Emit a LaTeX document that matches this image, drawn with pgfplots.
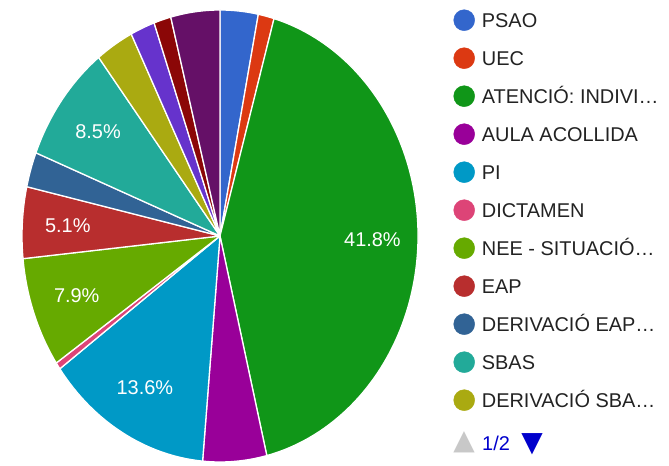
\documentclass[border=0pt]{standalone}
\usepackage{pgfplots}
\pgfplotsset{compat=1.18}
\usepackage{pgfplotstable}
\usepackage{fontspec}
\setmainfont{Liberation Sans}
\newfontfamily\symfont{DejaVu Sans}
\definecolor{c1}{HTML}{3366CC}
\definecolor{c2}{HTML}{DC3912}
\definecolor{c3}{HTML}{109618}
\definecolor{c4}{HTML}{990099}
\definecolor{c5}{HTML}{0099C6}
\definecolor{c6}{HTML}{DD4477}
\definecolor{c7}{HTML}{66AA00}
\definecolor{c8}{HTML}{B82E2E}
\definecolor{c9}{HTML}{316395}
\definecolor{c10}{HTML}{22AA99}
\definecolor{c11}{HTML}{AAAA11}
\definecolor{c12}{HTML}{6633CC}
\definecolor{c13}{HTML}{8B0707}
\definecolor{c14}{HTML}{651067}
\definecolor{pagerblue}{HTML}{0000CC}
\definecolor{pagergray}{HTML}{C8C8C8}
\definecolor{legtext}{HTML}{222222}

\pgfplotstableread[col sep=semicolon]{
label;value;color;pct;leg
PSAO;3.1;c1;0;1
UEC;1.3;c2;0;1
ATENCIÓ: INDIVI…;41.8;c3;1;1
AULA ACOLLIDA;5.2;c4;0;1
PI;13.6;c5;1;1
DICTAMEN;0.5;c6;0;1
NEE - SITUACIÓ…;7.9;c7;1;1
EAP;5.1;c8;1;1
DERIVACIÓ EAP…;2.5;c9;0;1
SBAS;8.5;c10;1;1
DERIVACIÓ SBA…;3.1;c11;0;1
P12;2.0;c12;0;0
P13;1.4;c13;0;0
P14;4.0;c14;0;0
}\piedata

\begin{document}
\begin{tikzpicture}
\begin{axis}[
  width=669bp, height=466bp, scale only axis,
  xmin=0, xmax=669, ymin=0, ymax=466,
  hide axis, clip=false,
  legend style={at={(axis cs:453.5,456.5)}, anchor=north west, draw=none, fill=none,
    inner sep=0pt, outer sep=0pt, font=\fontsize{20}{24}\selectfont, row sep=16.6bp,
    text=legtext,
    nodes={inner xsep=7bp, inner ysep=0pt, text height=14.3bp, text depth=0pt},
    legend cell align=left},
  legend image code/.code={\fill[#1] (10.5bp,0bp) circle[radius=10.5bp];},
]
\path (rel axis cs:0,0) rectangle (rel axis cs:1,1);
\pgfplotstablegetrowsof{\piedata}
\pgfmathtruncatemacro\N{\pgfplotsretval-1}
\gdef\cum{0}
\pgfplotsforeachungrouped \i in {0,...,\N}{%
  \pgfplotstablegetelem{\i}{value}\of\piedata \let\v\pgfplotsretval
  \pgfplotstablegetelem{\i}{color}\of\piedata \let\c\pgfplotsretval
  \pgfplotstablegetelem{\i}{pct}\of\piedata \let\s\pgfplotsretval
  \pgfplotstablegetelem{\i}{leg}\of\piedata \let\g\pgfplotsretval
  \pgfplotstablegetelem{\i}{label}\of\piedata \let\l\pgfplotsretval
  \pgfmathsetmacro\a{90-3.6*\cum}
  \pgfmathsetmacro\b{90-3.6*(\cum+\v)}
  \pgfmathsetmacro\m{(\a+\b)/2}
  \edef\temp{\noexpand\fill[\c, draw=white, line width=1.3bp, line join=round]
    (axis cs:220,230) -- (axis cs:{220+198*cos(\a)},{230+226*sin(\a)})
    arc[start angle=\a, end angle=\b, x radius=198, y radius=226] -- cycle;}
  \temp
  \ifnum\s=1
    \edef\temp{\noexpand\node[white, font=\noexpand\fontsize{20}{24}\noexpand\selectfont]
      at (axis cs:{220+0.77*198*cos(\m)},{230+0.77*226*sin(\m)}) {\v\noexpand\%};}
    \temp
  \fi
  \ifnum\g=1
    \edef\temp{\noexpand\addlegendimage{color=\c}\noexpand\addlegendentry{\l}}
    \temp
  \fi
  \pgfmathsetmacro\cum{\cum+\v}
  \global\let\cum\cum
}
\node[pagergray, font=\symfont\fontsize{28}{30}\selectfont] at (axis cs:464,24) {▲};
\node[pagerblue, anchor=west, inner sep=0pt, font=\fontsize{20}{24}\selectfont] at (axis cs:482,23) {1/2};
\node[pagerblue, font=\symfont\fontsize{28}{30}\selectfont] at (axis cs:532,22) {▼};
\end{axis}
\end{tikzpicture}
\end{document}
